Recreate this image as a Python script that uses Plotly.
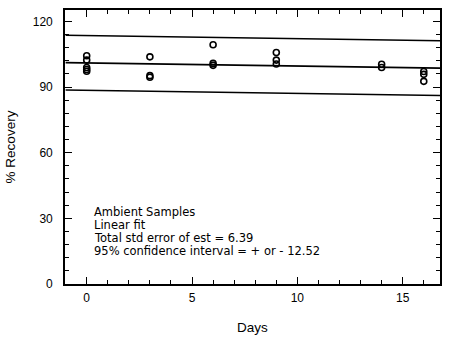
import numpy as np
import plotly.graph_objects as go

# Recovery measurements of ambient samples over storage time
days = [0, 0, 0, 0, 0, 3, 3, 3, 6, 6, 6, 9, 9, 9, 14, 14, 16, 16, 16]
recovery = [104.3, 102.3, 98.9, 98.0, 97.2, 103.8, 95.2, 94.5, 109.3, 100.8, 99.9,
            105.8, 102.3, 100.5, 100.4, 98.9, 97.1, 95.8, 92.6]

# Linear fit and its 95% confidence band
fit_intercept = 101.0
fit_slope = -0.14
ci_half_width = 12.52
fit_days = [-1.0, 16.8]

notes = [
    "Ambient Samples",
    "Linear fit",
    "Total std error of est = 6.39",
    "95% confidence interval = + or - 12.52",
]

FONT = "Liberation Sans, Arial, Helvetica, sans-serif"
NOTE_FONT = "DejaVu Sans, Verdana, sans-serif"

fx = np.array(fit_days)
fy = fit_intercept + fit_slope * fx

fig = go.Figure()
for offset in (ci_half_width, 0.0, -ci_half_width):
    fig.add_trace(go.Scatter(
        x=fx, y=fy + offset, mode="lines",
        line=dict(color="black", width=1.6),
        hoverinfo="skip", showlegend=False,
    ))

fig.add_trace(go.Scatter(
    x=days, y=recovery, mode="markers",
    marker=dict(symbol="circle-open", size=6, color="black",
                line=dict(color="black", width=1.6)),
    showlegend=False,
))

line_y = [0.2644, 0.2158, 0.1673, 0.1187]
for txt, yy in zip(notes, line_y):
    fig.add_annotation(
        text=txt, xref="paper", yref="paper", x=0.072, y=yy,
        xanchor="left", yanchor="middle", showarrow=False,
        font=dict(family=NOTE_FONT, size=11.5, color="black"),
    )

axis_common = dict(
    showline=True, linecolor="black", linewidth=1.6, mirror="ticks",
    ticks="inside", ticklen=7, tickwidth=1.3, tickcolor="black",
    showgrid=False, zeroline=False,
    tickfont=dict(family=FONT, size=12, color="black"),
    title_font=dict(family=FONT, size=13.5, color="black"),
)

fig.update_xaxes(
    range=[-1.03, 16.77], tick0=0, dtick=5,
    minor=dict(dtick=1, ticks="inside", ticklen=4, tickwidth=1.2, tickcolor="black"),
    title_text="Days", title_standoff=18, ticklabelstandoff=2,
    **axis_common,
)
fig.update_yaxes(
    range=[0, 125.2], tick0=0, dtick=30,
    minor=dict(dtick=6, ticks="inside", ticklen=4, tickwidth=1.2, tickcolor="black"),
    title_text="% Recovery", title_standoff=14, ticklabelstandoff=8,
    **axis_common,
)

fig.update_layout(
    width=450, height=341,
    margin=dict(l=65, r=10, t=8, b=55),
    paper_bgcolor="white", plot_bgcolor="white",
)

fig.write_html("out.html")
